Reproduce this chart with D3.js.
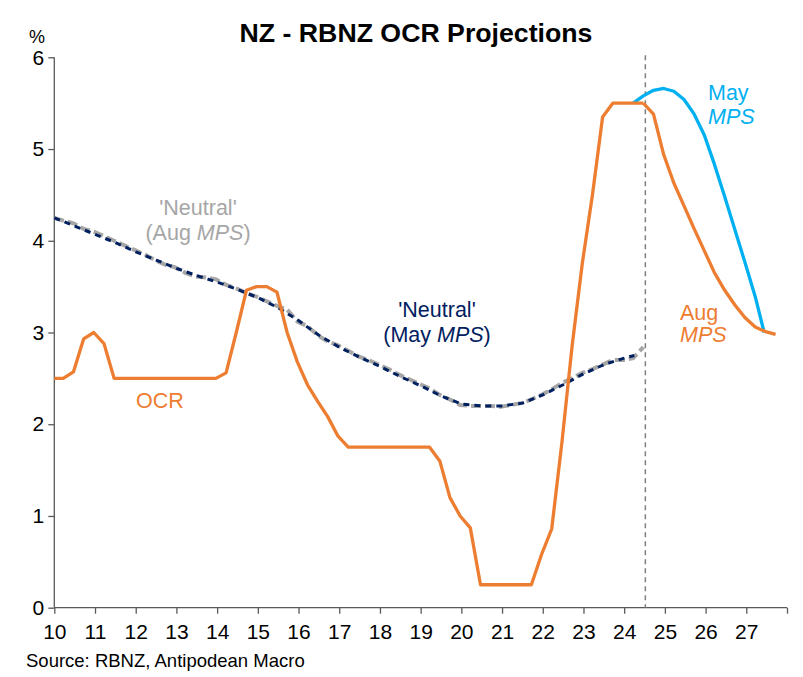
<!DOCTYPE html>
<html>
<head>
<meta charset="utf-8">
<script src="https://cdn.jsdelivr.net/npm/d3@7"></script>
<style>
  html, body { margin: 0; padding: 0; background: #fff; }
  svg { display: block; font-family: "Liberation Sans", Arial, sans-serif; }
</style>
</head>
<body>
<svg id="chart" width="803" height="677"></svg>
<script>
// ---------- data ----------
const xTicks = [10, 11, 12, 13, 14, 15, 16, 17, 18, 19, 20, 21, 22, 23, 24, 25, 26, 27, 28];
const xTickLabels = ["10","11","12","13","14","15","16","17","18","19","20","21","22","23","24","25","26","27",""];
const yTicks = [0, 1, 2, 3, 4, 5, 6];

// OCR history (quarterly)
const ocrDates = [10.0, 10.22, 10.47, 10.72, 10.97, 11.22, 11.47, 11.72, 11.97, 12.22, 12.47, 12.72, 12.97, 13.22, 13.47, 13.72, 13.97,
  14.22, 14.47, 14.72, 14.97, 15.22, 15.47, 15.72, 15.97, 16.22, 16.47, 16.72, 16.97, 17.22, 17.47, 17.72, 17.97, 18.22, 18.47, 18.72, 18.97, 19.22,
  19.47, 19.72, 19.97, 20.22, 20.47, 20.72, 20.97, 21.22, 21.47, 21.72, 21.97, 22.22, 22.47, 22.72, 22.97, 23.22, 23.47, 23.72, 23.97, 24.22, 24.47];
const ocrValues = [2.5, 2.5, 2.57, 2.93, 3.0, 2.88, 2.5, 2.5, 2.5, 2.5, 2.5, 2.5, 2.5, 2.5, 2.5, 2.5, 2.5,
  2.56, 3.0, 3.46, 3.5, 3.5, 3.44, 3.0, 2.68, 2.43, 2.25, 2.08, 1.87, 1.75, 1.75, 1.75, 1.75, 1.75, 1.75, 1.75, 1.75, 1.75,
  1.6, 1.2, 1.0, 0.87, 0.25, 0.25, 0.25, 0.25, 0.25, 0.25, 0.58, 0.86, 1.8, 2.85, 3.75, 4.5, 5.35, 5.5, 5.5, 5.5, 5.5];

// August MPS OCR projection
const augDates = [24.47, 24.72, 24.97, 25.22, 25.47, 25.72, 25.97, 26.22, 26.47, 26.72, 26.97, 27.22, 27.47, 27.72];
const augValues = [5.5, 5.38, 4.94, 4.63, 4.38, 4.13, 3.89, 3.65, 3.46, 3.3, 3.16, 3.06, 3.01, 2.98];

// May MPS OCR projection
const mayDates = [24.22, 24.47, 24.72, 24.97, 25.22, 25.47, 25.72, 25.97, 26.22, 26.47, 26.72, 26.97, 27.22, 27.44];
const mayValues = [5.5, 5.58, 5.64, 5.66, 5.63, 5.54, 5.38, 5.15, 4.83, 4.48, 4.12, 3.76, 3.39, 3.0];

// 'Neutral' OCR (May MPS)
const neutralMayDates = [10.0, 10.5, 11.0, 11.5, 12.0, 12.5, 13.0, 13.5, 14.0, 14.5, 15.0, 15.5, 16.0, 16.5, 17.0, 17.5, 18.0, 18.5,
  19.0, 19.5, 20.0, 20.5, 21.0, 21.5, 22.0, 22.5, 23.0, 23.5, 24.0, 24.25];
const neutralMayValues = [4.25, 4.16, 4.07, 3.98, 3.88, 3.79, 3.7, 3.62, 3.55, 3.47, 3.38, 3.27, 3.13, 2.97, 2.84, 2.73, 2.63, 2.52,
  2.42, 2.31, 2.22, 2.2, 2.2, 2.23, 2.32, 2.43, 2.55, 2.65, 2.72, 2.75];

// 'Neutral' OCR (Aug MPS)
const neutralAugDates = ocrDates;
const neutralAugValues = [4.25, 4.22, 4.19, 4.13, 4.1, 4.05, 4.0, 3.95, 3.9, 3.85, 3.79, 3.74, 3.71, 3.65, 3.61, 3.6, 3.58,
  3.52, 3.48, 3.43, 3.39, 3.34, 3.29, 3.25, 3.12, 3.07, 2.97, 2.9, 2.86, 2.8, 2.74, 2.7, 2.65, 2.6, 2.54, 2.49, 2.44, 2.39,
  2.32, 2.27, 2.21, 2.2, 2.2, 2.2, 2.19, 2.21, 2.23, 2.27, 2.32, 2.38, 2.45, 2.5, 2.56, 2.6, 2.65, 2.7, 2.7, 2.72, 2.84];

const forecastLine = 24.52;

// ---------- layout ----------
const svg = d3.select("#chart");
const mLeft = 54.3, mRight = 787, mTop = 57.3, mBottom = 607.7;

const x = d3.scaleLinear().domain([10, 28]).range([mLeft, mRight]);
const y = d3.scaleLinear().domain([0, 6]).range([mBottom, mTop]);

const zip = (ds, vs) => ds.map((d, i) => [d, vs[i]]);
const line = d3.line().x(d => x(d[0])).y(d => y(d[1]));

// title
svg.append("text")
  .attr("x", 416).attr("y", 42)
  .attr("text-anchor", "middle")
  .attr("font-size", 26.7).attr("font-weight", "bold").attr("fill", "#000")
  .text("NZ - RBNZ OCR Projections");

// axes
const axisColor = "#595959";
const yAxis = svg.append("g").attr("transform", `translate(${mLeft},0)`)
  .call(d3.axisLeft(y).tickValues(yTicks).tickSize(6).tickPadding(4).tickFormat(d3.format("d")));
const xAxis = svg.append("g").attr("transform", `translate(0,${mBottom})`)
  .call(d3.axisBottom(x).tickValues(xTicks).tickSize(6).tickPadding(10).tickFormat((d, i) => xTickLabels[i]));
[yAxis, xAxis].forEach(g => {
  g.select(".domain").attr("stroke", axisColor).attr("stroke-width", 1.3);
  g.selectAll(".tick line").attr("stroke", axisColor).attr("stroke-width", 1.3);
  g.selectAll(".tick text").attr("fill", "#000").attr("font-family", "Liberation Sans, Arial, sans-serif");
});
yAxis.selectAll(".tick text").attr("font-size", 21);
xAxis.selectAll(".tick text").attr("font-size", 21).attr("dy", "0.71em");
yAxis.select(".domain").attr("d", `M0,${mTop}V${mBottom}`);
xAxis.select(".domain").attr("d", `M${mLeft},0H${mRight}`);

svg.append("text").attr("x", 37).attr("y", 43).attr("text-anchor", "middle")
  .attr("font-size", 18).text("%");

// vertical dashed forecast marker
svg.append("line")
  .attr("x1", x(forecastLine)).attr("x2", x(forecastLine))
  .attr("y1", mTop - 2).attr("y2", mBottom)
  .attr("stroke", "#7f7f7f").attr("stroke-width", 1.5).attr("stroke-dasharray", "5,4");

// neutral lines
svg.append("path").datum(zip(neutralAugDates, neutralAugValues))
  .attr("d", line).attr("fill", "none")
  .attr("stroke", "#a6a6a6").attr("stroke-width", 4).attr("stroke-dasharray", "10,4");
svg.append("path").datum(zip(neutralMayDates, neutralMayValues))
  .attr("d", line).attr("fill", "none")
  .attr("stroke", "#002060").attr("stroke-width", 3).attr("stroke-dasharray", "6,5");

// May MPS
svg.append("path").datum(zip(mayDates, mayValues))
  .attr("d", line).attr("fill", "none")
  .attr("stroke", "#00b0f0").attr("stroke-width", 3.3).attr("stroke-linejoin", "round");

// OCR history + Aug MPS
svg.append("path").datum(zip(augDates, augValues))
  .attr("d", line).attr("fill", "none")
  .attr("stroke", "#ed7d31").attr("stroke-width", 3.3).attr("stroke-linejoin", "round");
svg.append("path").datum(zip(ocrDates, ocrValues))
  .attr("d", line).attr("fill", "none")
  .attr("stroke", "#ed7d31").attr("stroke-width", 3.3).attr("stroke-linejoin", "round");

// annotations
function label(xp, yp, anchor, color, parts) {
  const t = svg.append("text").attr("x", xp).attr("y", yp).attr("text-anchor", anchor)
    .attr("font-size", 21.5).attr("fill", color);
  parts.forEach(p => t.append("tspan").attr("font-style", p[1] ? "italic" : "normal").text(p[0]));
}
label(198, 215, "middle", "#a6a6a6", [["'Neutral'", false]]);
label(198, 240, "middle", "#a6a6a6", [["(Aug ", false], ["MPS", true], [")", false]]);
label(437, 317, "middle", "#002060", [["'Neutral'", false]]);
label(437, 342, "middle", "#002060", [["(May ", false], ["MPS", true], [")", false]]);
label(160, 408, "middle", "#ed7d31", [["OCR", false]]);
label(708, 100, "start", "#00b0f0", [["May", false]]);
label(708, 124, "start", "#00b0f0", [["MPS", true]]);
label(680, 320, "start", "#ed7d31", [["Aug", false]]);
label(680, 342, "start", "#ed7d31", [["MPS", true]]);

// source
svg.append("text").attr("x", 26).attr("y", 667)
  .attr("font-size", 18.5).attr("fill", "#000")
  .text("Source: RBNZ, Antipodean Macro");
</script>
</body>
</html>
